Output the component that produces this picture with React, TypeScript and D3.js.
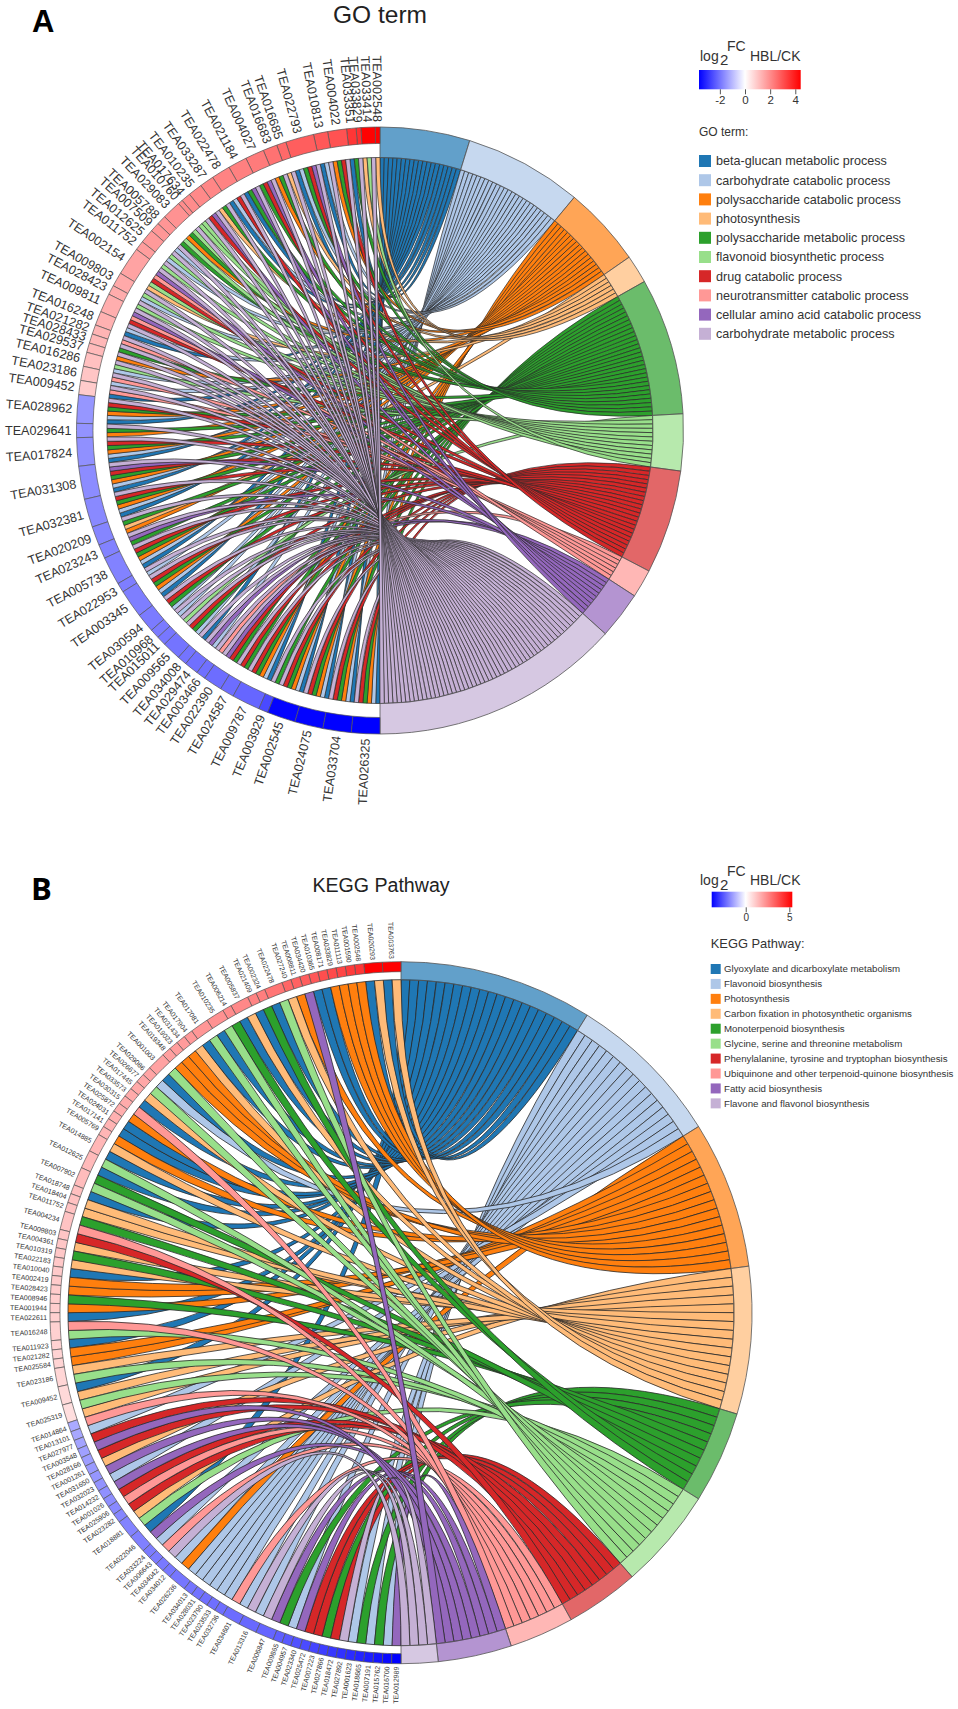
import { useEffect, useRef } from "react";
import * as d3 from "d3";

const FONT = "'Liberation Sans', Arial, sans-serif";

const TERM_COLORS = ["#1f77b4", "#aec7e8", "#ff7f0e", "#ffbb78", "#2ca02c", "#98df8a", "#d62728", "#ff9896", "#9467bd", "#c5b0d5"];

// Panel A
const GO_TERMS = [
  "beta-glucan metabolic process",
  "carbohydrate catabolic process",
  "polysaccharide catabolic process",
  "photosynthesis",
  "polysaccharide metabolic process",
  "flavonoid biosynthetic process",
  "drug catabolic process",
  "neurotransmitter catabolic process",
  "cellular amino acid catabolic process",
  "carbohydrate metabolic process",
];
const GO_GENES = [
  "TEA002548", "TEA033414", "TEA033829", "TEA033351", "TEA004022", "TEA010813", "TEA022793", "TEA016685",
  "TEA016683", "TEA004027", "TEA021184", "TEA022478", "TEA033287", "TEA010235", "TEA017634", "TEA010760",
  "TEA029083", "TEA005788", "TEA007509", "TEA012625", "TEA011752", "TEA002154", "TEA009803", "TEA028423",
  "TEA009811", "TEA016248", "TEA021282", "TEA028433", "TEA029537", "TEA016286", "TEA023186", "TEA009452",
  "TEA028962", "TEA029641", "TEA017824", "TEA031308", "TEA032381", "TEA020209", "TEA023243", "TEA005738",
  "TEA022953", "TEA003345", "TEA030594", "TEA010968", "TEA015011", "TEA009565", "TEA034008", "TEA029474",
  "TEA003466", "TEA022390", "TEA024587", "TEA009787", "TEA003929", "TEA002545", "TEA024075", "TEA033704",
  "TEA026325",
];
const GO_LOGFC = [
  4.43, 4.4, 3.6, 3.5, 3.0, 2.9, 2.8, 2.6, 2.45, 2.3, 2.2, 2.15, 2.1, 2.05, 2, 2, 1.9, 1.85, 1.8, 1.75, 1.7, 1.6,
  1.5, 1.45, 1.4, 1.35, 1.3, 1.25, 1.2, 1.1, 1.0, 0.9,
  -1.5, -1.55, -1.6, -1.65, -1.7, -1.75, -1.8, -1.8, -1.85, -1.85, -1.9, -1.9, -1.95, -2, -2, -2.05, -2.05, -2.1,
  -2.1, -2.2, -2.6, -3.6, -3.62, -3.64, -3.66,
];
const GO_MEMBERS = [
  [3], [9, 5, 3], [9], [4, 0], [9, 6, 4, 2], [9, 1, 0], [9, 8, 6, 4, 1, 0], [9, 3],
  [9, 4, 2], [9, 8, 6, 4], [9, 8, 4, 0], [9, 6, 1, 0], [9, 4, 3], [9, 8, 6], [9, 5], [5],
  [9, 5, 4, 2], [5, 4], [9, 1], [9, 5, 1], [9, 5], [9, 8, 7, 6, 5, 3], [9, 5, 1], [9, 5],
  [9, 8, 7, 6], [9, 1, 0], [9, 7], [9, 4], [9, 2], [9, 5, 1], [9, 7, 1], [9, 7, 0],
  [9, 6, 4, 2, 1, 0], [9, 4, 2], [9, 6, 4, 2, 1, 0], [9, 8, 6, 4, 2, 1, 0], [9, 6, 4, 2, 1, 0], [9, 4, 3, 2], [9, 8, 4], [9, 6, 4, 2, 1, 0],
  [9, 1], [9, 6, 4, 2, 1, 0], [9, 6, 4, 1], [9, 1], [9, 5], [9, 6, 4, 1], [9, 0], [9, 8, 1],
  [9, 7], [9, 8, 6, 4], [9, 6, 4], [9, 6, 4, 2, 1, 0], [9, 4], [9, 6, 4, 2, 1, 0], [9, 6, 4, 2, 1, 0], [9, 6, 4, 2, 1, 0],
  [9, 6, 4, 2, 1, 0],
];

// Panel B
const KEGG_TERMS = [
  "Glyoxylate and dicarboxylate metabolism",
  "Flavonoid biosynthesis",
  "Photosynthesis",
  "Carbon fixation in photosynthetic organisms",
  "Monoterpenoid biosynthesis",
  "Glycine, serine and threonine metabolism",
  "Phenylalanine, tyrosine and tryptophan biosynthesis",
  "Ubiquinone and other terpenoid-quinone biosynthesis",
  "Fatty acid biosynthesis",
  "Flavone and flavonol biosynthesis",
];
const KEGG_GENES = [
  "TEA003763", "TEA020293", "TEA002548", "TEA001590", "TEA011113", "TEA033829", "TEA008171", "TEA010365",
  "TEA034420", "TEA008811", "TEA027240", "TEA022478", "TEA002324", "TEA021409", "TEA005837", "TEA006214",
  "TEA010235", "TEA017081", "TEA017904", "TEA031434", "TEA019023", "TEA019348", "TEA001003", "TEA029086",
  "TEA026677", "TEA017445", "TEA033573", "TEA030315", "TEA025872", "TEA024031", "TEA017141", "TEA005769",
  "TEA014885", "TEA012625", "TEA007902", "TEA018748", "TEA018404", "TEA011752", "TEA004234", "TEA009803",
  "TEA004361", "TEA010319", "TEA022183", "TEA010040", "TEA002419", "TEA028423", "TEA008946", "TEA001944",
  "TEA022611", "TEA016248", "TEA011923", "TEA021282", "TEA025584", "TEA023186", "TEA009452", "TEA025319",
  "TEA014864", "TEA013101", "TEA027977", "TEA003548", "TEA028166", "TEA001261", "TEA031650", "TEA032023",
  "TEA014232", "TEA001026", "TEA025906", "TEA023282", "TEA018881", "TEA022046", "TEA033224", "TEA006643",
  "TEA034042", "TEA034012", "TEA026236", "TEA034013", "TEA028031", "TEA023790", "TEA023533", "TEA032736",
  "TEA034601", "TEA013316", "TEA006847", "TEA009865", "TEA004957", "TEA023340", "TEA025472", "TEA007223",
  "TEA027866", "TEA018472", "TEA027892", "TEA001623", "TEA018665", "TEA007191", "TEA015762", "TEA016700",
  "TEA012989",
];
const KEGG_LOGFC = [
  5.34, 5.3, 4.2, 4.1, 3.9, 3.8, 3.7, 3.5, 3.4, 3.3, 3.2, 2.9, 2.7, 2.6, 2.5, 2.4, 2.3, 2.2, 2.15, 2.1, 2.05, 2.0, 1.95, 1.9,
  1.85, 1.8, 1.78, 1.75, 1.7, 1.65, 1.6, 1.55, 1.5, 1.45, 1.4, 1.35, 1.3, 1.28, 1.25, 1.22, 1.2, 1.18, 1.15, 1.12, 1.1, 1.08,
  1.05, 1.02, 1.0, 0.97, 0.95, 0.92, 0.9, 0.85, 0.8, 0.7,
  -1.3, -1.35, -1.4, -1.45, -1.5, -1.55, -1.6, -1.65, -1.7, -1.75, -1.8, -1.85, -1.9, -1.95, -2.0, -2.02, -2.05, -2.08, -2.1,
  -2.12, -2.15, -2.18, -2.2, -2.22, -2.25, -2.3, -2.35, -2.45, -2.55, -2.65, -2.75, -2.85, -2.95, -3.05, -3.15, -3.25, -3.35,
  -3.45, -3.6, -3.75, -3.9,
];
const KEGG_MEMBERS = [
  [3, 0], [3, 0], [2], [2], [2], [2], [0], [0], [8], [2], [3], [5, 0], [4], [0], [3, 0], [4],
  [5, 0], [5, 0], [3], [2], [2], [2], [5, 0], [1], [5], [3], [0], [7], [2], [0], [0], [2],
  [3, 0], [5, 0], [4, 5], [0], [3], [3], [4, 7], [6], [3], [4], [3], [0], [2], [2], [4], [2],
  [0], [7, 5], [0], [2], [2], [3, 5], [0, 3], [5, 3],
  [7], [1], [6], [8], [6], [3], [8], [1], [8], [6], [7], [6], [3, 5], [0, 8], [1], [7],
  [9], [1], [2, 1], [1], [1], [1], [1], [1], [7, 1], [9, 1], [9, 8], [4], [1], [8], [6], [6],
  [4], [6], [9], [1], [4], [1], [4], [1], [8],
];

const GO_TICKS = [-2, 0, 2, 4];
const KEGG_TICKS = [0, 5];

interface ChordSpec {
  cx: number;
  cy: number;
  outer: number;
  geneInner: number;
  ribbon: number;
  genes: string[];
  logfc: number[];
  members: number[][];
  labelSize: number;
  labelGap: number;
  strokeW: number;
}

interface LegendSpec {
  id: string;
  title: string;
  terms: string[];
  ticks: number[];
  barX: [number, number];
  barY: [number, number];
  domain: [number, number];
  tickSize: number;
  headY: number;
  titleX: number;
  titleY: number;
  titleSize: number;
  boxX: number;
  boxY: number;
  boxW: number;
  boxH: number;
  step: number;
  textX: number;
  textSize: number;
}

function polar(r: number, a: number): [number, number] {
  return [r * Math.sin(a), -r * Math.cos(a)];
}

function drawChord(svg: d3.Selection<SVGSVGElement, unknown, null, undefined>, s: ChordSpec) {
  const g = svg.append("g").attr("transform", `translate(${s.cx},${s.cy})`);
  const total = d3.sum(s.members, (m) => m.length);
  const angle = d3.scaleLinear().domain([0, total]).range([0, Math.PI]);
  const fc = d3
    .scaleLinear<string>()
    .domain([d3.min(s.logfc) ?? -1, 0, d3.max(s.logfc) ?? 1])
    .range(["#0000ff", "#ffffff", "#ff0000"]);
  const arc = d3.arc<{ a0: number; a1: number; r0: number; r1: number }>()
    .innerRadius((d) => d.r0)
    .outerRadius((d) => d.r1)
    .startAngle((d) => d.a0)
    .endAngle((d) => d.a1);

  // chord slots on the gene side, top to bottom
  let pos = 0;
  const links: { term: number; gene: number; slot: number }[] = [];
  s.members.forEach((m, gene) => {
    m.forEach((term) => links.push({ term, gene, slot: pos++ }));
  });

  // term blocks: slots run clockwise from the last gene to the first
  const termIds = d3.range(TERM_COLORS.length);
  let tpos = 0;
  const ordered: { term: number; slot: number; tslot: number }[] = [];
  const blocks: { term: number; start: number; end: number }[] = [];
  termIds.forEach((term) => {
    const start = tpos;
    links
      .filter((l) => l.term === term)
      .sort((a, b) => b.slot - a.slot)
      .forEach((l) => ordered.push({ term, slot: l.slot, tslot: tpos++ }));
    blocks.push({ term, start, end: tpos });
  });

  // ribbons
  ordered.forEach((l) => {
    const p = d3.path();
    const [ax0, ay0] = polar(s.ribbon, -angle(l.slot));
    const [ax1, ay1] = polar(s.ribbon, -angle(l.slot + 1));
    const [bx0, by0] = polar(s.ribbon, angle(l.tslot));
    const [bx1, by1] = polar(s.ribbon, angle(l.tslot + 1));
    p.moveTo(ax0, ay0);
    p.quadraticCurveTo(0, 0, bx0, by0);
    p.lineTo(bx1, by1);
    p.quadraticCurveTo(0, 0, ax1, ay1);
    p.closePath();
    g.append("path")
      .attr("d", p.toString())
      .attr("fill", TERM_COLORS[l.term])
      .attr("stroke", "#2a2a2a")
      .attr("stroke-width", s.strokeW);
  });

  // term ring
  blocks.forEach((b) => {
    g.append("path")
      .attr("d", arc({ a0: angle(b.start), a1: angle(b.end), r0: s.ribbon, r1: s.outer }))
      .attr("fill", TERM_COLORS[b.term])
      .attr("fill-opacity", 0.7)
      .attr("stroke", "#555")
      .attr("stroke-width", 0.8);
  });

  // gene ring and labels
  let c = 0;
  s.genes.forEach((name, i) => {
    const n = s.members[i].length;
    g.append("path")
      .attr("d", arc({ a0: -angle(c), a1: -angle(c + n), r0: s.geneInner, r1: s.outer }))
      .attr("fill", fc(s.logfc[i]))
      .attr("stroke", "#555")
      .attr("stroke-width", 0.7);
    const mid = -angle(c + n / 2);
    const [lx, ly] = polar(s.outer + s.labelGap, mid);
    const rot = (Math.atan2(-ly, -lx) * 180) / Math.PI;
    g.append("text")
      .attr("transform", `translate(${lx},${ly}) rotate(${rot})`)
      .attr("text-anchor", "end")
      .attr("dy", "0.35em")
      .attr("font-size", s.labelSize)
      .attr("font-family", FONT)
      .attr("fill", "#333")
      .text(name);
    c += n;
  });
}

function drawLegend(svg: d3.Selection<SVGSVGElement, unknown, null, undefined>, l: LegendSpec) {
  const defs = svg.append("defs");
  const x = d3.scaleLinear().domain(l.domain).range(l.barX);
  const mid = (0 - l.domain[0]) / (l.domain[1] - l.domain[0]);
  const grad = defs.append("linearGradient").attr("id", l.id);
  [
    { o: 0, c: "#0000ff" },
    { o: mid, c: "#ffffff" },
    { o: 1, c: "#ff0000" },
  ].forEach((d) => grad.append("stop").attr("offset", d.o).attr("stop-color", d.c));

  const head = (tx: number, ty: number, size: number, text: string) =>
    svg.append("text").attr("x", tx).attr("y", ty).attr("font-size", size).attr("font-family", FONT).attr("fill", "#333").text(text);
  head(700, l.headY, 14, "log");
  head(720, l.headY + 4.5, 15, "2");
  head(727, l.headY - 9.5, 14, "FC");
  head(750, l.headY, 14, "HBL/CK");

  svg.append("rect")
    .attr("x", l.barX[0])
    .attr("y", l.barY[0])
    .attr("width", l.barX[1] - l.barX[0])
    .attr("height", l.barY[1] - l.barY[0])
    .attr("fill", `url(#${l.id})`);

  const axis = svg
    .append("g")
    .attr("transform", `translate(0,${l.barY[1]})`)
    .call(d3.axisBottom(x).tickValues(l.ticks).tickSize(5).tickPadding(2).tickFormat((d) => String(d)));
  axis.select(".domain").remove();
  axis.selectAll(".tick line").attr("stroke", "#555");
  axis.selectAll("text").attr("font-size", l.tickSize).attr("font-family", FONT).attr("fill", "#333");

  head(l.titleX, l.titleY, l.titleSize, l.title);

  l.terms.forEach((t, i) => {
    const y = l.boxY + i * l.step;
    svg.append("rect").attr("x", l.boxX).attr("y", y).attr("width", l.boxW).attr("height", l.boxH).attr("fill", TERM_COLORS[i]);
    svg.append("text")
      .attr("x", l.textX)
      .attr("y", y + l.boxH / 2)
      .attr("dy", "0.35em")
      .attr("font-size", l.textSize)
      .attr("font-family", FONT)
      .attr("fill", "#333")
      .text(t);
  });
}

export default function App() {
  const svgRef = useRef<SVGSVGElement>(null);

  useEffect(() => {
    if (!svgRef.current) return;
    const svg = d3.select(svgRef.current);
    svg.selectAll("*").remove();

    // panel letters and titles
    svg.append("text").attr("x", 32).attr("y", 32).attr("font-size", 31).attr("font-weight", "bold").attr("font-family", FONT).text("A");
    svg.append("text").attr("x", 31).attr("y", 900).attr("font-size", 31).attr("font-weight", "bold").attr("font-family", "'Open Sans', sans-serif").text("B");
    svg.append("text").attr("x", 380).attr("y", 23).attr("text-anchor", "middle").attr("font-size", 24.5).attr("font-family", FONT).attr("fill", "#222").text("GO term");
    svg.append("text").attr("x", 381).attr("y", 892).attr("text-anchor", "middle").attr("font-size", 19.6).attr("font-family", FONT).attr("fill", "#222").text("KEGG Pathway");

    drawChord(svg, {
      cx: 380, cy: 430.5, outer: 303.5, geneInner: 287, ribbon: 273,
      genes: GO_GENES, logfc: GO_LOGFC, members: GO_MEMBERS,
      labelSize: 12.6, labelGap: 5, strokeW: 0.7,
    });
    drawChord(svg, {
      cx: 401, cy: 1312.7, outer: 351, geneInner: 341, ribbon: 333,
      genes: KEGG_GENES, logfc: KEGG_LOGFC, members: KEGG_MEMBERS,
      labelSize: 7, labelGap: 3, strokeW: 0.8,
    });

    drawLegend(svg, {
      id: "go-grad", title: "GO term:", terms: GO_TERMS, ticks: GO_TICKS,
      barX: [699, 800.7], barY: [70, 89.3], domain: [-3.66, 4.43], tickSize: 11.5,
      headY: 60.7, titleX: 699, titleY: 135.7, titleSize: 12,
      boxX: 699, boxY: 155, boxW: 12, boxH: 12, step: 19.2, textX: 716, textSize: 12.6,
    });
    drawLegend(svg, {
      id: "kegg-grad", title: "KEGG Pathway:", terms: KEGG_TERMS, ticks: KEGG_TICKS,
      barX: [711.7, 792.3], barY: [891.7, 907.3], domain: [-3.9, 5.34], tickSize: 10,
      headY: 885, titleX: 710.7, titleY: 948.3, titleSize: 12.9,
      boxX: 710.7, boxY: 964, boxW: 10, boxH: 10, step: 14.93, textX: 724, textSize: 9.7,
    });
  }, []);

  return (
    <svg
      ref={svgRef}
      width={958}
      height={1709}
      style={{ position: "absolute", left: 0, top: 0, background: "#fff" }}
    />
  );
}
